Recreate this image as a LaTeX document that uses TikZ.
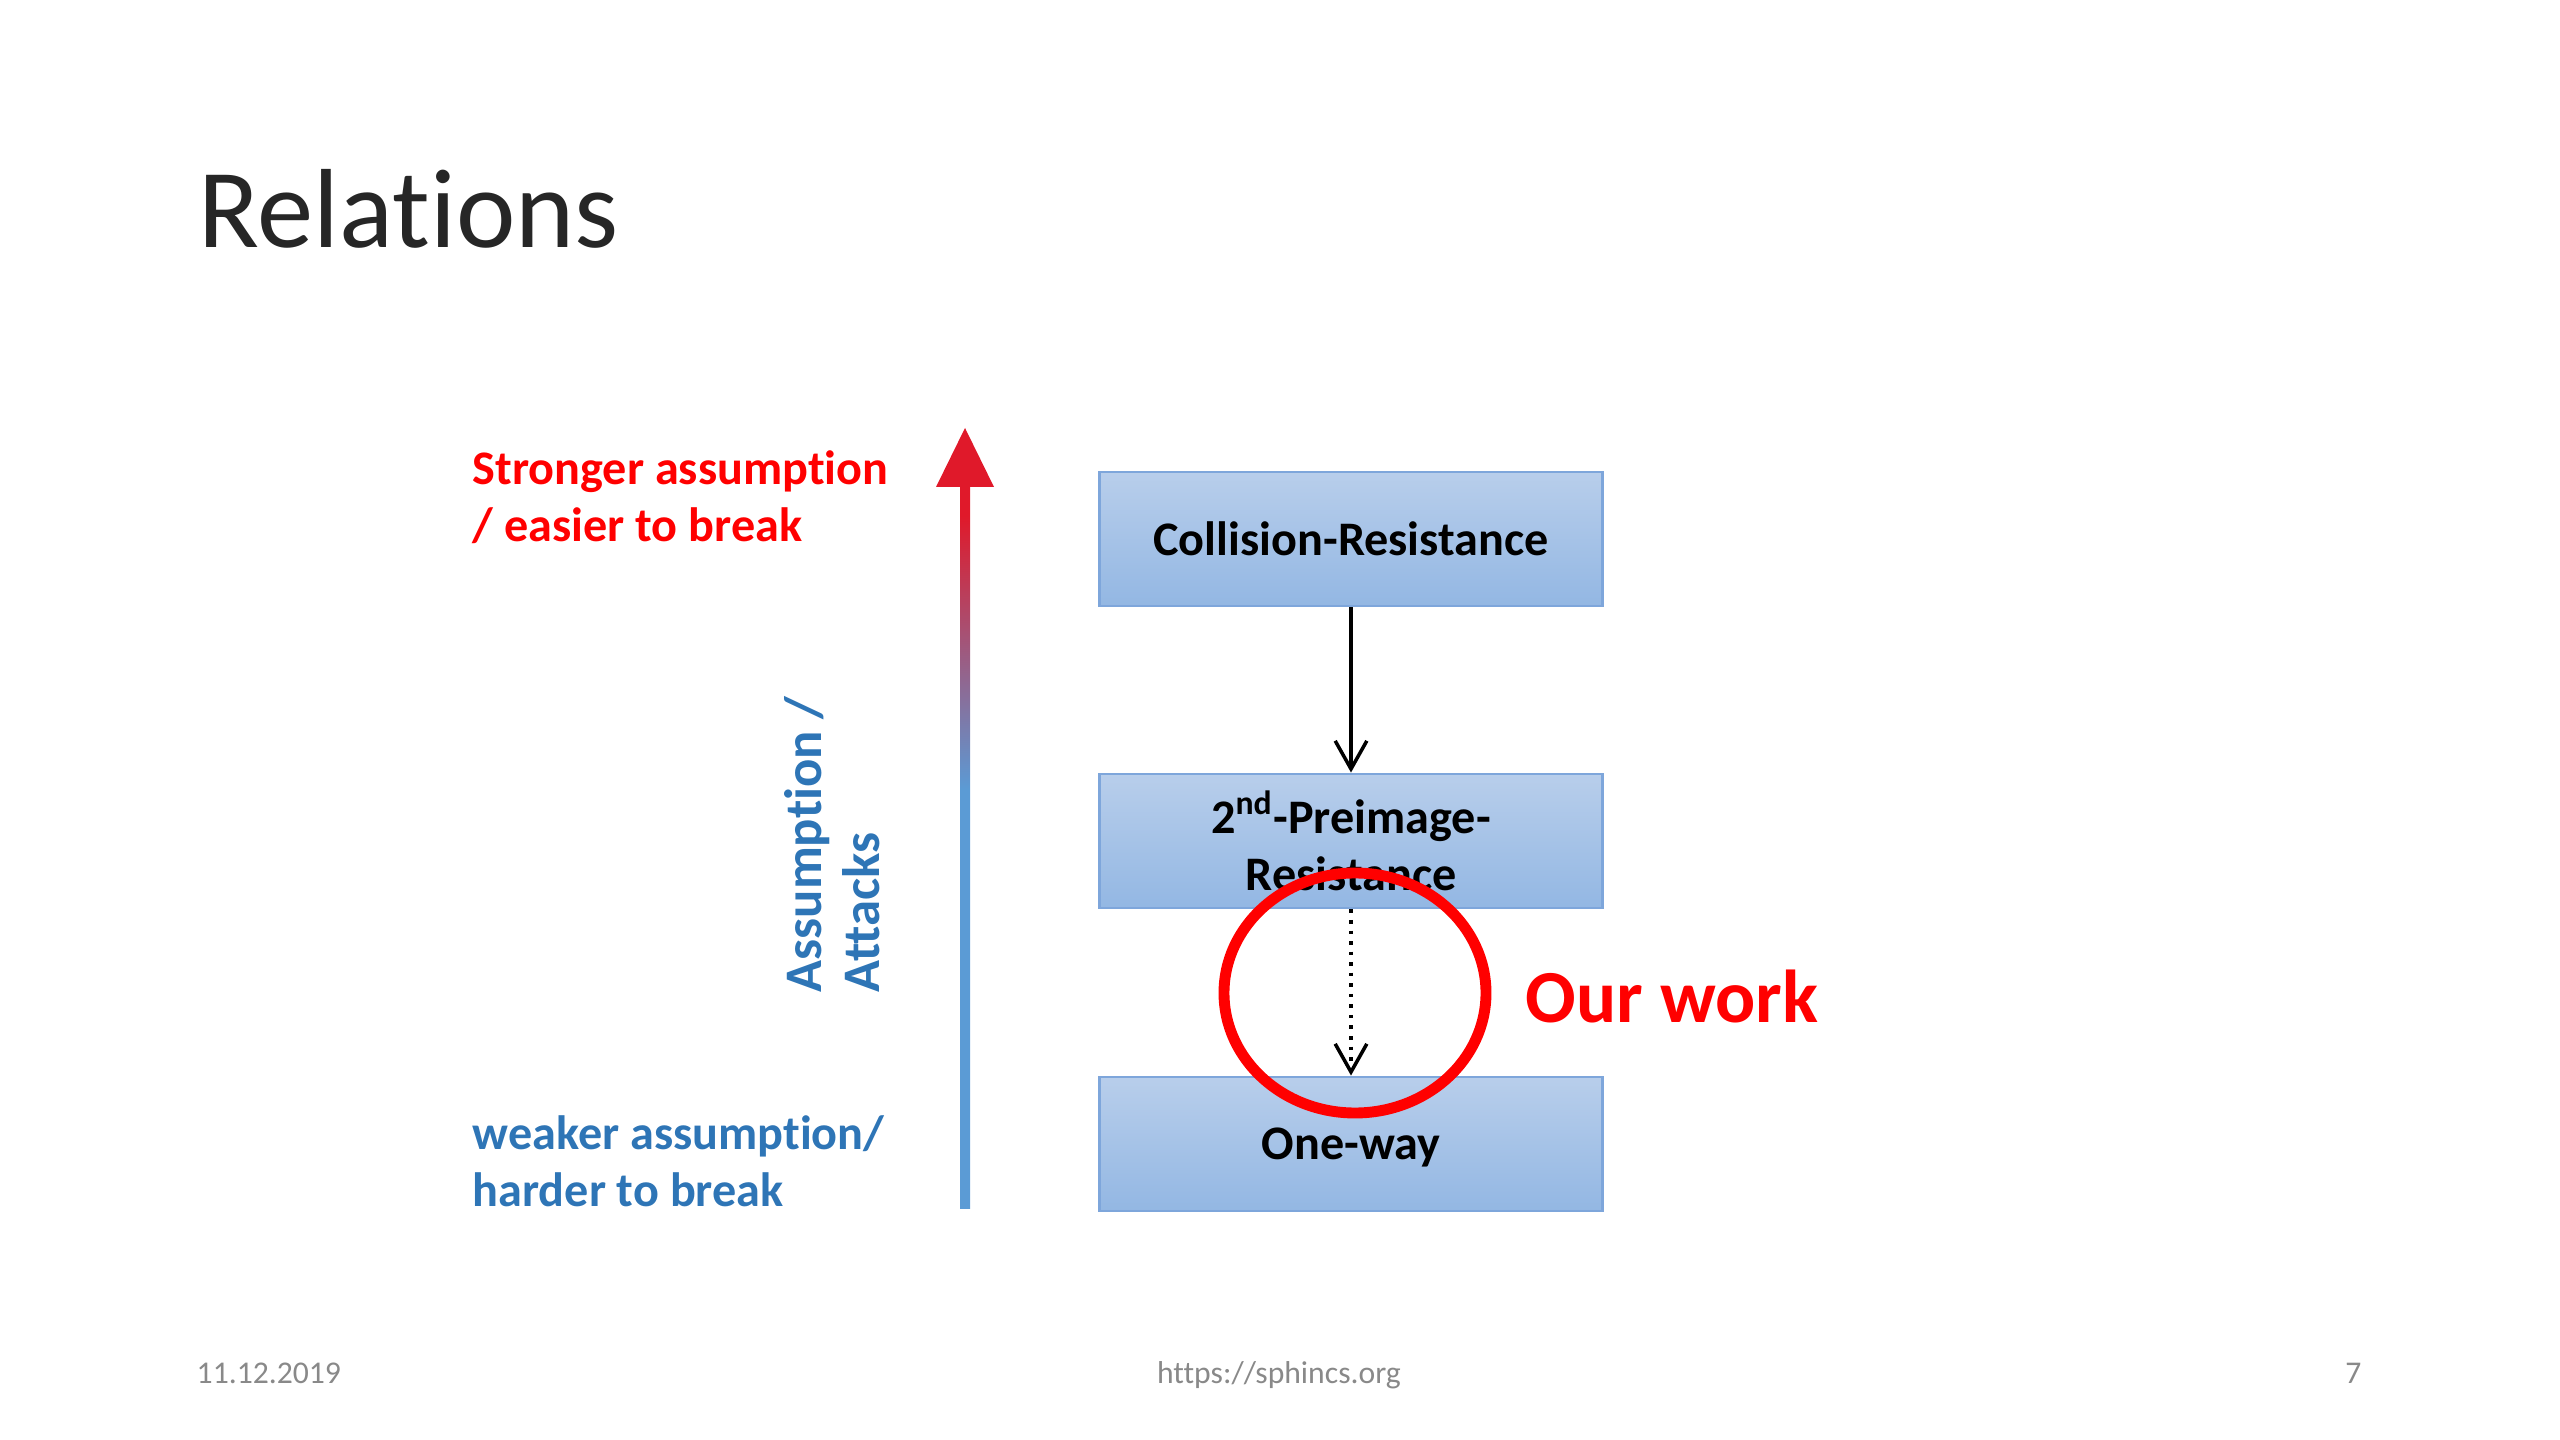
\documentclass[tikz,border=0pt]{standalone}
\usepackage{fontspec}
\setmainfont[Ligatures=NoCommon, Contextuals=NoAlternate]{Carlito}
\usetikzlibrary{arrows.meta,positioning}
\definecolor{boxtop}{RGB}{184,206,235}
\definecolor{boxbot}{RGB}{147,183,227}
\definecolor{boxline}{RGB}{126,166,219}
\definecolor{txtblue}{RGB}{46,117,182}
\definecolor{axblue}{RGB}{91,155,213}
\definecolor{axred}{RGB}{224,25,42}
\definecolor{footgray}{RGB}{137,137,137}
\pgfdeclareverticalshading{axisshade}{100bp}{color(0bp)=(axblue); color(54bp)=(axblue); color(73bp)=(axred); color(100bp)=(axred)}
\tikzset{
  propbox/.style={draw=boxline, line width=0.8pt, top color=boxtop, bottom color=boxbot,
    minimum width=5.02cm, minimum height=1.34cm, align=center,
    font=\fontsize{13.7}{16.3}\selectfont\bfseries},
  implies/.style={-{Straight Barb[length=8pt,width=9pt,line width=1pt]}, line width=1pt},
  sidetext/.style={anchor=north west, inner sep=0pt, align=left,
    font=\fontsize{13.7}{16.2}\selectfont\bfseries},
  foot/.style={inner sep=0pt, text=footgray, font=\fontsize{9}{10}\selectfont}
}
\begin{document}
\begin{tikzpicture}[x=0.01cm, y=-0.01cm]
\useasboundingbox (0,0) rectangle (2560,1440);
% Titel
\node[anchor=base west, inner sep=0pt, text=black!85, font=\fontsize{32}{36}\selectfont] (title) at (198,248) {Relations};
% Eigenschaften
\node[propbox] (cr)  at (1351,539)  {Collision-Resistance};
\node[propbox] (spr) at (1351,841)  {2\textsuperscript{nd}-Preimage-\\Resistance};
\node[propbox, text depth=0pt] (ow)  at (1351,1144) {One-way};
\draw[implies] (cr.south) -- (spr.north);
\draw[implies, dotted] (spr.south) -- (ow.north);
% Markierung
\draw[red, line width=3.1pt] (1355,993) ellipse [x radius=131, y radius=120];
\node[anchor=west, inner sep=0pt, text=red, font=\fontsize{21.3}{24}\selectfont\bfseries] (work) at (1525,996) {Our work};
% Achse
\coordinate (axbot) at (965,1208);
\coordinate (axtop) at (965,487);
\coordinate (axtip) at (965,428);
\shade[shading=axisshade] (960,487) rectangle (970,1208);
\fill[axred] (936,487) -- (axtip) -- (994,487) -- cycle;
\node[sidetext, text=red] (strong) at (472,450) {Stronger assumption\\/ easier to break};
\node[sidetext, text=txtblue] (weak) at (472,1115) {weaker assumption/\\harder to break};
\node[anchor=north west, inner sep=0pt, rotate=90, align=left, text=txtblue,
  font=\fontsize{15}{16.5}\selectfont\bfseries] (axlabel) at (784,993) {Assumption /\\Attacks};
% Fusszeile
\node[foot, anchor=base west] (date) at (196,1383) {11.12.2019};
\node[foot, anchor=base] (url) at (1279,1383) {https://sphincs.org};
\node[foot, anchor=base east] (page) at (2362,1383) {7};
\end{tikzpicture}
\end{document}
